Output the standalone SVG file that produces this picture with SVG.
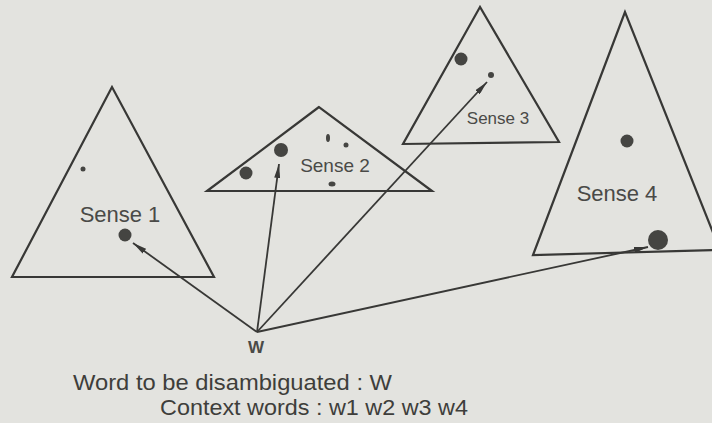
<svg xmlns="http://www.w3.org/2000/svg" width="712" height="423" viewBox="0 0 712 423">
<defs>
<style>
.tri{fill:none;stroke:#383836;stroke-width:2.2;stroke-linejoin:miter}
.dot{fill:#454542}
.lbl{font-family:"Liberation Sans",Arial,sans-serif;fill:#4a4a47;text-anchor:middle}
.cap{font-family:"Liberation Sans",Arial,sans-serif;fill:#3e3e3b}
.con{fill:none;stroke:#383836;stroke-width:1.8}
</style>
<marker id="arr" viewBox="0 0 14 6" refX="14" refY="3" markerWidth="14" markerHeight="6" markerUnits="userSpaceOnUse" orient="auto">
<path d="M0,0 L14,3 L0,6 z" fill="#383836"/>
</marker>
</defs>
<rect width="712" height="423" fill="#e3e3df"/>
<g id="sense1">
<polygon class="tri" points="112,87 12,277 214,277"/>
<circle class="dot" cx="83" cy="169" r="2.5"/>
<circle class="dot" cx="125" cy="235" r="6.5"/>
<text class="lbl" x="120" y="222" font-size="22">Sense 1</text>
</g>
<g id="sense2">
<polygon class="tri" points="319,107 207,191 432,191"/>
<circle class="dot" cx="246" cy="173" r="6.5"/>
<circle class="dot" cx="281" cy="150" r="7"/>
<ellipse class="dot" cx="328" cy="138" rx="2" ry="4"/>
<circle class="dot" cx="346" cy="145" r="2.5"/>
<ellipse class="dot" cx="332" cy="184" rx="3.5" ry="2.5"/>
<text class="lbl" x="335" y="172" font-size="19">Sense 2</text>
</g>
<g id="sense3">
<polygon class="tri" points="480,7 403,144 559,142"/>
<circle class="dot" cx="461" cy="59" r="6.5"/>
<circle class="dot" cx="491" cy="75" r="3"/>
<text class="lbl" x="498" y="124" font-size="17">Sense 3</text>
</g>
<g id="sense4">
<polygon class="tri" points="625,12 533,255 720,250"/>
<circle class="dot" cx="627" cy="141" r="6.5"/>
<circle class="dot" cx="658" cy="240" r="10"/>
<text class="lbl" x="617" y="201" font-size="22">Sense 4</text>
</g>
<g id="w">
<text class="lbl" x="256" y="353" font-size="17" font-weight="bold">W</text>
</g>
<g id="connectors">
<line class="con" x1="257" y1="332" x2="133" y2="243" marker-end="url(#arr)"/>
<line class="con" x1="257" y1="332" x2="279" y2="164" marker-end="url(#arr)"/>
<line class="con" x1="257" y1="332" x2="487" y2="82" marker-end="url(#arr)"/>
<line class="con" x1="257" y1="332" x2="648" y2="247" marker-end="url(#arr)"/>
</g>
<g id="captions">
<text class="cap" x="73" y="390" font-size="22" textLength="319" lengthAdjust="spacingAndGlyphs">Word to be disambiguated : W</text>
<text class="cap" x="160" y="415" font-size="22" textLength="308" lengthAdjust="spacingAndGlyphs">Context words : w1 w2 w3 w4</text>
</g>
</svg>
